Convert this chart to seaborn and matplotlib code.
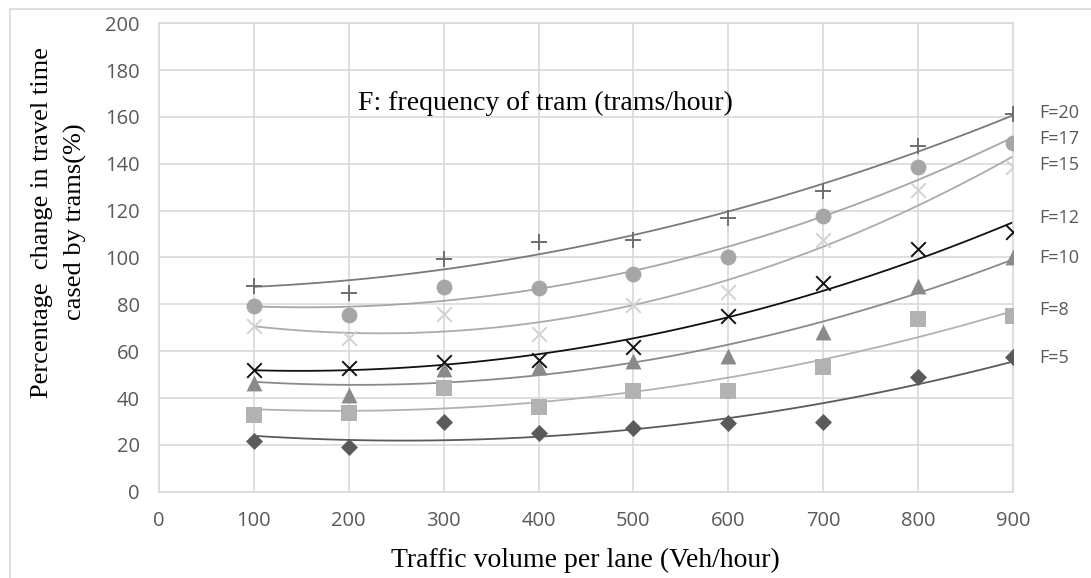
import numpy as np
import pandas as pd
import matplotlib
matplotlib.use("Agg")
import matplotlib.pyplot as plt
from matplotlib.patches import Rectangle
import seaborn as sns

# ── Data ─────────────────────────────────────────────────────────────────────
traffic = [100, 200, 300, 400, 500, 600, 700, 800, 900]
freqs   = [5, 8, 10, 12, 15, 17, 20]

f5  = [21.8, 19.0, 29.9, 24.9, 27.3, 29.2, 29.9, 49.1, 57.6]
f8  = [32.7, 33.7, 44.1, 36.0, 43.0, 43.0, 53.4, 73.6, 75.0]
f10 = [46.3, 41.3, 52.3, 53.4, 55.9, 57.9, 68.3, 87.8, 100.3]
f12 = [52.0, 53.0, 55.2, 56.2, 61.9, 75.0, 89.0, 103.5, 111.0]
f15 = [70.7, 65.5, 75.7, 67.3, 79.7, 85.4, 107.5, 128.8, 138.8]
f17 = [79.4, 75.3, 87.5, 86.8, 92.8, 100.3, 117.7, 138.8, 148.7]
f20 = [88.0, 85.0, 99.4, 106.7, 107.5, 116.7, 128.5, 147.6, 161.3]

series = dict(zip(freqs, [f5, f8, f10, f12, f15, f17, f20]))

# ── Styles per series: marker, marker colour, line colour, marker size, label y
STYLE = {
    5:  dict(marker="D", mc="#5a5a5a", lc="#5a5a5a", s=75,  ly=57.2),
    8:  dict(marker="s", mc="#b2b2b2", lc="#b2b2b2", s=120, ly=77.6),
    10: dict(marker="^", mc="#8a8a8a", lc="#8a8a8a", s=130, ly=99.9),
    12: dict(marker="x", mc="#111111", lc="#111111", s=110, ly=116.9),
    15: dict(marker="x", mc="#d2d2d2", lc="#ababab", s=110, ly=139.5),
    17: dict(marker="o", mc="#a6a6a6", lc="#a6a6a6", s=130, ly=150.6),
    20: dict(marker="+", mc="#6e6e6e", lc="#7a7a7a", s=120, ly=161.6),
}

GRID = "#d9d9d9"
TICK = "#595959"

sns.set_theme(style="whitegrid")
plt.rcParams["font.family"] = ["Open Sans", "DejaVu Sans"]

fig, ax = plt.subplots(figsize=(10.91, 5.78), dpi=100)
fig.subplots_adjust(left=0.1457, right=0.9285, top=0.9597, bottom=0.1493)

for f in freqs:
    st = STYLE[f]
    df = pd.DataFrame({"x": traffic, "y": series[f]})
    unfilled = st["marker"] in "+x"
    sns.regplot(
        data=df, x="x", y="y", order=2, ci=None, ax=ax,
        marker=st["marker"],
        scatter_kws=dict(color=st["mc"], s=st["s"], alpha=1,
                         linewidths=1.4 if unfilled else 0, zorder=3),
        line_kws=dict(color=st["lc"], lw=1.3, zorder=2),
    )
    ax.text(928, st["ly"], f"F={f}", ha="left", va="center",
            fontsize=13, color=TICK, clip_on=False)

ax.set_xlim(0, 900)
ax.set_ylim(0, 200)
ax.set_xticks(np.arange(0, 901, 100))
ax.set_yticks(np.arange(0, 201, 20))
ax.grid(True, color=GRID, lw=1.2)
ax.set_axisbelow(True)
for sp in ax.spines.values():
    sp.set_color(GRID)
    sp.set_linewidth(1.2)
ax.tick_params(length=0, labelsize=14.5, labelcolor=TICK, pad=14)
ax.set_xlabel("")
ax.set_ylabel("")

serif = ["Liberation Serif", "DejaVu Serif"]
ax.text(210, 163.0, "F: frequency of tram (trams/hour)", family=serif,
        fontsize=20, color="black", ha="left", va="baseline")

fig.text(585 / 1091, 1 - 566.7 / 578, "Traffic volume per lane (Veh/hour)",
         family=serif, fontsize=20, color="black", ha="center", va="baseline")
fig.text(59 / 1091, 1 - 222 / 578,
         "Percentage  change in travel time\ncased by trams(%)",
         family=serif, fontsize=19, color="black", rotation=90,
         ha="center", va="center", multialignment="center", linespacing=1.6)

# outer chart-area border (top and left edges visible)
fig.patches.append(Rectangle((10 / 1091, -0.1), 1.2, 1.1 - 9 / 578,
                             transform=fig.transFigure, fill=False,
                             edgecolor=GRID, lw=1.2))

fig.savefig("out.png", dpi=100)
